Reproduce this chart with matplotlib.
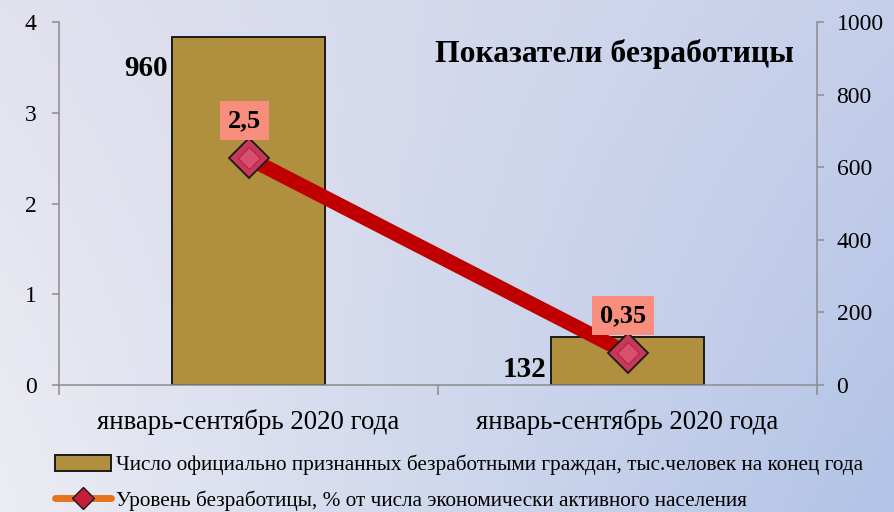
import numpy as np
import matplotlib
matplotlib.use("Agg")
import matplotlib.pyplot as plt
from matplotlib.patches import Patch
from matplotlib.lines import Line2D

plt.rcParams['font.family'] = ['Liberation Serif', 'DejaVu Serif']

categories = ["январь-сентябрь 2020 года", "январь-сентябрь 2020 года"]
unemployed_thousands = [960, 132]
unemployment_rate = [2.5, 0.35]
rate_labels = ["2,5", "0,35"]
left_ticks = [0, 1, 2, 3, 4]
right_ticks = [0, 200, 400, 600, 800, 1000]
title = "Показатели безработицы"
legend_bar = "Число официально признанных безработными граждан, тыс.человек на конец года"
legend_line = "Уровень безработицы, % от числа экономически активного населения"

fig = plt.figure(figsize=(8.94, 5.12), dpi=100)

# background gradient
bg = fig.add_axes([0, 0, 1, 1], zorder=-10)
tl = np.array([0xE2, 0xE2, 0xEE]) / 255
tr = np.array([0xC6, 0xCF, 0xEA]) / 255
bl = np.array([0xEC, 0xEC, 0xF3]) / 255
br = np.array([0xB2, 0xC3, 0xE6]) / 255
u = np.linspace(0, 1, 200)[None, :, None]
v = np.linspace(0, 1, 120)[:, None, None]
img = (1 - v) * ((1 - u) * tl + u * tr) + v * ((1 - u) * bl + u * br)
bg.imshow(img, aspect='auto', extent=[0, 1, 0, 1], origin='upper')
bg.set_axis_off()

ax = fig.add_axes([0.066, 0.248, 0.848, 0.709])
ax2 = ax.twinx()
x = np.arange(len(categories))

gray = '#8C8C8C'
# bars (right axis)
ax2.bar(x, unemployed_thousands, width=0.404, color='#B08F3E',
        edgecolor='#1A1A1A', linewidth=1.4, zorder=2)
for xi, val in zip(x, unemployed_thousands):
    ax2.annotate(f"{val}", xy=(xi - 0.202, val), xytext=(-3, -23),
                 textcoords='offset points', ha='right', va='center',
                 fontsize=21, fontweight='bold', color='black')
ax2.set_ylim(0, 1000)
ax2.set_yticks(right_ticks)

# line (left axis)
ax.plot(x, unemployment_rate, color='#C00000', linewidth=10.5, zorder=3,
        solid_capstyle='butt')
ax.plot(x, unemployment_rate, linestyle='none', marker='D', markersize=20.5,
        markerfacecolor='#C8385A', markeredgecolor='#1A1A1A',
        markeredgewidth=1.3, zorder=4)
ax.plot(x, unemployment_rate, linestyle='none', marker='D', markersize=11,
        markerfacecolor='#D9506E', markeredgecolor='#B02848',
        markeredgewidth=0.8, zorder=5)
for xi, val, lab in zip(x, unemployment_rate, rate_labels):
    ax.annotate(lab, xy=(xi, val), xytext=(-3, 27), textcoords='offset points',
                ha='center', va='center', fontsize=19, fontweight='bold',
                color='black',
                bbox=dict(boxstyle='square,pad=0.3', facecolor='#F78E7E',
                          edgecolor='none'), zorder=6)
ax.set_ylim(0, 4)
ax.set_yticks(left_ticks)
ax.set_xlim(-0.5, 1.5)
ax.set_xticks(x)
ax.set_xticklabels(categories, fontsize=19.4)
ax.set_xticks([-0.5, 0.5, 1.5], minor=True)
ax.tick_params(axis='x', which='major', length=0, pad=17)
ax.tick_params(axis='x', which='minor', length=7, width=1.1, color=gray)
ax.tick_params(axis='y', which='major', length=5, width=1.1, color=gray,
               labelsize=17, pad=11)
ax2.tick_params(axis='y', which='major', length=5, width=1.1, color=gray,
                labelsize=17, pad=9)

ax.set_zorder(ax2.get_zorder() + 1)
ax.patch.set_visible(False)
ax2.patch.set_visible(False)
for s in ['top', 'right']:
    ax.spines[s].set_visible(False)
for s in ['top', 'left', 'bottom']:
    ax2.spines[s].set_visible(False)
ax.spines['left'].set_color(gray)
ax.spines['bottom'].set_color(gray)
ax2.spines['right'].set_color(gray)
for sp in [ax.spines['left'], ax.spines['bottom'], ax2.spines['right']]:
    sp.set_linewidth(1.1)

fig.text(0.687, 0.895, title, ha='center', va='center', fontsize=22.8,
         fontweight='bold', color='black')

handles = [
    Patch(facecolor='#B08F3E', edgecolor='#1A1A1A', linewidth=1.4),
    Line2D([0], [0], color='#E8731E', linewidth=5, marker='D', markersize=11,
           markerfacecolor='#C41E3A', markeredgecolor='#1A1A1A',
           markeredgewidth=1.0, solid_capstyle='round'),
]
fig.legend(handles, [legend_bar, legend_line], loc='upper left',
           bbox_to_anchor=(0.062, 0.112), frameon=False, fontsize=15.3,
           handlelength=2.6, handleheight=0.75, handletextpad=0.25,
           labelspacing=0.72, borderpad=0, borderaxespad=0)

fig.savefig('out.png', dpi=100)
